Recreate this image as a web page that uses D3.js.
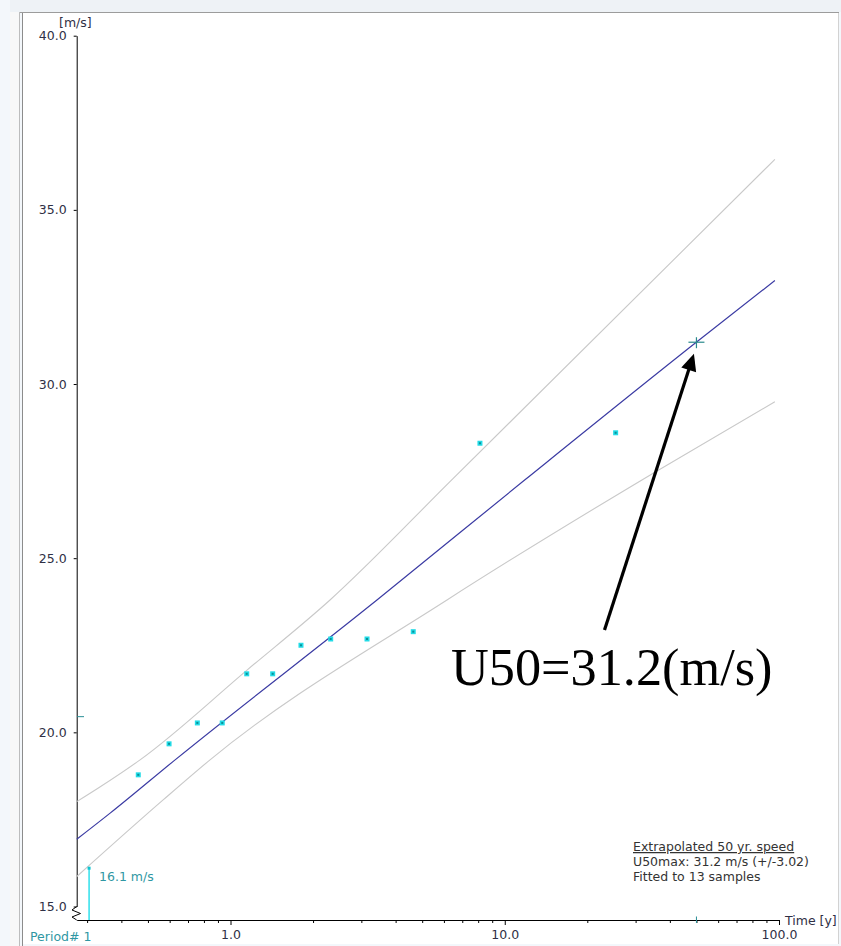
<!DOCTYPE html>
<html><head><meta charset="utf-8">
<script src="https://cdn.jsdelivr.net/npm/d3@7"></script>
<style>html,body{margin:0;padding:0;background:#f3f7fb;overflow:hidden}svg{display:block}</style>
</head><body>
<svg id="chart" width="841" height="946"></svg>
<script>
// ---- data ----
const sampleYears  = [0.461, 0.597, 0.757, 0.933, 1.146, 1.425, 1.807, 2.319, 3.146, 4.638, 8.12, 25.37];
const sampleSpeeds = [18.78, 19.67, 20.27, 20.27, 21.68, 21.68, 22.50, 22.68, 22.68, 22.89, 28.30, 28.60];

const fitYears   = [0.275, 0.364, 0.628, 3.42, 11.85, 49.4, 96.6];
const fitSpeeds  = [16.93, 17.68, 19.21, 23.80, 27.25, 31.17, 32.97];
const upperYears = [0.275, 0.334, 0.468, 1.146, 2.306, 6.49, 96.6];
const upperSpeeds= [18.01, 18.43, 19.21, 21.78, 23.80, 27.29, 36.45];
const lowerYears = [0.275, 0.568, 0.842, 6.157, 34.78, 96.6];
const lowerSpeeds= [15.86, 18.06, 19.21, 23.80, 27.44, 29.49];

const minSampleYear = 0.305, minSampleSpeed = 16.1;
const markerSpeed = 20.45;
const u50Year = 50, u50Speed = 31.2;

const yTicks = [15, 20, 25, 30, 35, 40];
const xMajorTicks = [1, 10, 100];
const xMinorTicks = [0.3,0.4,0.5,0.6,0.7,0.8,0.9,2,3,4,5,6,7,8,9,20,30,40,50,60,70,80,90];
const legendLines = ["Extrapolated 50 yr. speed", "U50max: 31.2 m/s (+/-3.02)", "Fitted to 13 samples"];
const annotationText = "U50=31.2(m/s)";

// ---- drawing ----
const svg = d3.select("#chart");
const FONT = "DejaVu Sans, Verdana, sans-serif";
const txt = "#2f3045", teal = "#2f97a3";

// window chrome
svg.append("rect").attr("x",10).attr("y",0).attr("width",831).attr("height",12).attr("fill","#eef2f6");
svg.append("rect").attr("x",10).attr("y",12).attr("width",9).attr("height",934).attr("fill","#f8f8f8");
svg.append("rect").attr("x",22).attr("y",13).attr("width",817).attr("height",931).attr("fill","#ffffff");
svg.append("line").attr("x1",19).attr("x2",839).attr("y1",12.5).attr("y2",12.5).attr("stroke","#9c9c9c");
svg.append("line").attr("x1",19.5).attr("x2",19.5).attr("y1",12).attr("y2",946).attr("stroke","#bdbdbd");
svg.append("line").attr("x1",22.5).attr("x2",22.5).attr("y1",13).attr("y2",946).attr("stroke","#8c8c8c");
svg.append("line").attr("x1",838.5).attr("x2",838.5).attr("y1",13).attr("y2",944).attr("stroke","#d2d2d2");

const x = d3.scaleLog().domain([0.2749, 100]).range([76.7, 779]);
const y = d3.scaleLinear().domain([15, 40]).range([906.5, 35.7]);
const xAxisY = 920;

// y axis
const gy = svg.append("g").attr("transform","translate(76.7,0)")
  .call(d3.axisLeft(y).tickValues(yTicks).tickSize(3).tickSizeOuter(0).tickPadding(7).tickFormat(d3.format(".1f")));
gy.selectAll("path,line").attr("stroke","#000");
gy.selectAll("text").attr("font-family",FONT).attr("font-size",12.5).attr("fill",txt);
// axis break zigzag
svg.append("path")
  .attr("d", d3.line()([[76.7,y(15)],[72,y(15)+3.5],[80.5,y(15)+7],[72,y(15)+10.5],[76.7,xAxisY]]))
  .attr("fill","none").attr("stroke","#000").attr("stroke-width",1);

// x axis
const gx = svg.append("g").attr("transform",`translate(0,${xAxisY})`)
  .call(d3.axisBottom(x).tickValues(xMajorTicks).tickSize(5).tickSizeOuter(0).tickPadding(5).tickFormat(d3.format(".1f")));
gx.selectAll("path,line").attr("stroke","#000");
gx.selectAll("text").attr("font-family",FONT).attr("font-size",12.5).attr("fill",txt);
const gxm = svg.append("g").attr("transform",`translate(0,${xAxisY})`)
  .call(d3.axisBottom(x).tickValues(xMinorTicks).tickSize(3).tickFormat(""));
gxm.select("path").remove();
gxm.selectAll("line").attr("stroke","#000");

// axis titles
svg.append("text").attr("x",59).attr("y",27).text("[m/s]")
  .attr("font-family",FONT).attr("font-size",12.5).attr("fill",txt);
svg.append("text").attr("x",785).attr("y",925).text("Time [y]")
  .attr("font-family",FONT).attr("font-size",12.5).attr("fill",txt);

// confidence band and fit
const lineGen = d3.line().x(d=>x(d[0])).y(d=>y(d[1])).curve(d3.curveMonotoneX);
svg.append("path").datum(d3.zip(upperYears, upperSpeeds)).attr("d",lineGen)
  .attr("fill","none").attr("stroke","#c9c9c9").attr("stroke-width",1.1);
svg.append("path").datum(d3.zip(lowerYears, lowerSpeeds)).attr("d",lineGen)
  .attr("fill","none").attr("stroke","#c9c9c9").attr("stroke-width",1.1);
svg.append("path").datum(d3.zip(fitYears, fitSpeeds)).attr("d",lineGen)
  .attr("fill","none").attr("stroke","#3b3ba3").attr("stroke-width",1.2);

// samples
const pts = svg.append("g");
d3.zip(sampleYears, sampleSpeeds).forEach(([t,v])=>{
  pts.append("rect").attr("x",x(t)-2.5).attr("y",y(v)-2.5).attr("width",5).attr("height",5).attr("fill","#22dbe6");
  pts.append("rect").attr("x",x(t)-1).attr("y",y(v)-1).attr("width",2).attr("height",2).attr("fill","#0b8f98");
});

// minimum sample marker
svg.append("line").attr("x1",x(minSampleYear)).attr("x2",x(minSampleYear))
  .attr("y1",y(minSampleSpeed)).attr("y2",xAxisY).attr("stroke","#10dbe8").attr("stroke-width",1.3);
svg.append("rect").attr("x",x(minSampleYear)-1.5).attr("y",y(minSampleSpeed)-1.5).attr("width",3).attr("height",3).attr("fill","#0fc4d0");
svg.append("text").attr("x",x(minSampleYear)+10).attr("y",y(minSampleSpeed)+12.5).text(minSampleSpeed.toFixed(1)+" m/s")
  .attr("font-family",FONT).attr("font-size",12.5).attr("fill",teal);
svg.append("text").attr("x",30).attr("y",941).text("Period# 1")
  .attr("font-family",FONT).attr("font-size",12.5).attr("fill",teal);

// marker ticks
svg.append("line").attr("x1",77).attr("x2",84).attr("y1",y(markerSpeed)).attr("y2",y(markerSpeed)).attr("stroke","#2a8f96");
svg.append("line").attr("x1",x(u50Year)).attr("x2",x(u50Year)).attr("y1",xAxisY-3.5).attr("y2",xAxisY+3).attr("stroke","#2a8f96");

// U50 cross
const cx = x(u50Year), cy = y(u50Speed);
svg.append("line").attr("x1",cx-8).attr("x2",cx+8).attr("y1",cy).attr("y2",cy).attr("stroke","#2a8a8c").attr("stroke-width",1.2);
svg.append("line").attr("x1",cx).attr("x2",cx).attr("y1",cy-5).attr("y2",cy+6).attr("stroke","#2a8a8c").attr("stroke-width",1.2);

// legend
const lg = svg.append("g").attr("font-family",FONT).attr("font-size",12.5).attr("fill","#333");
legendLines.forEach((s,i)=>{
  const t = lg.append("text").attr("x",633).attr("y",851 + i*15.2).text(s);
  if(i===0) t.attr("text-decoration","underline");
});

// annotation arrow + text
const tip = [cx-2.5, cy+11.5];
const tail = [604.5, 630];
const dx = tip[0]-tail[0], dy = tip[1]-tail[1], L = Math.hypot(dx,dy);
const ux = dx/L, uy = dy/L, hl = 17, hw = 7.8;
const bx = tip[0]-ux*hl, by = tip[1]-uy*hl;
svg.append("line").attr("x1",tail[0]).attr("y1",tail[1]).attr("x2",bx+ux*2).attr("y2",by+uy*2)
  .attr("stroke","#000").attr("stroke-width",3.2);
svg.append("path").attr("d",`M${tip[0]},${tip[1]}L${bx-uy*hw},${by+ux*hw}L${bx+uy*hw},${by-ux*hw}Z`).attr("fill","#000");
svg.append("text").attr("x",451).attr("y",685).text(annotationText)
  .attr("font-family","Liberation Serif, Times New Roman, serif").attr("font-size",52.3).attr("fill","#000");
</script>
</body></html>
